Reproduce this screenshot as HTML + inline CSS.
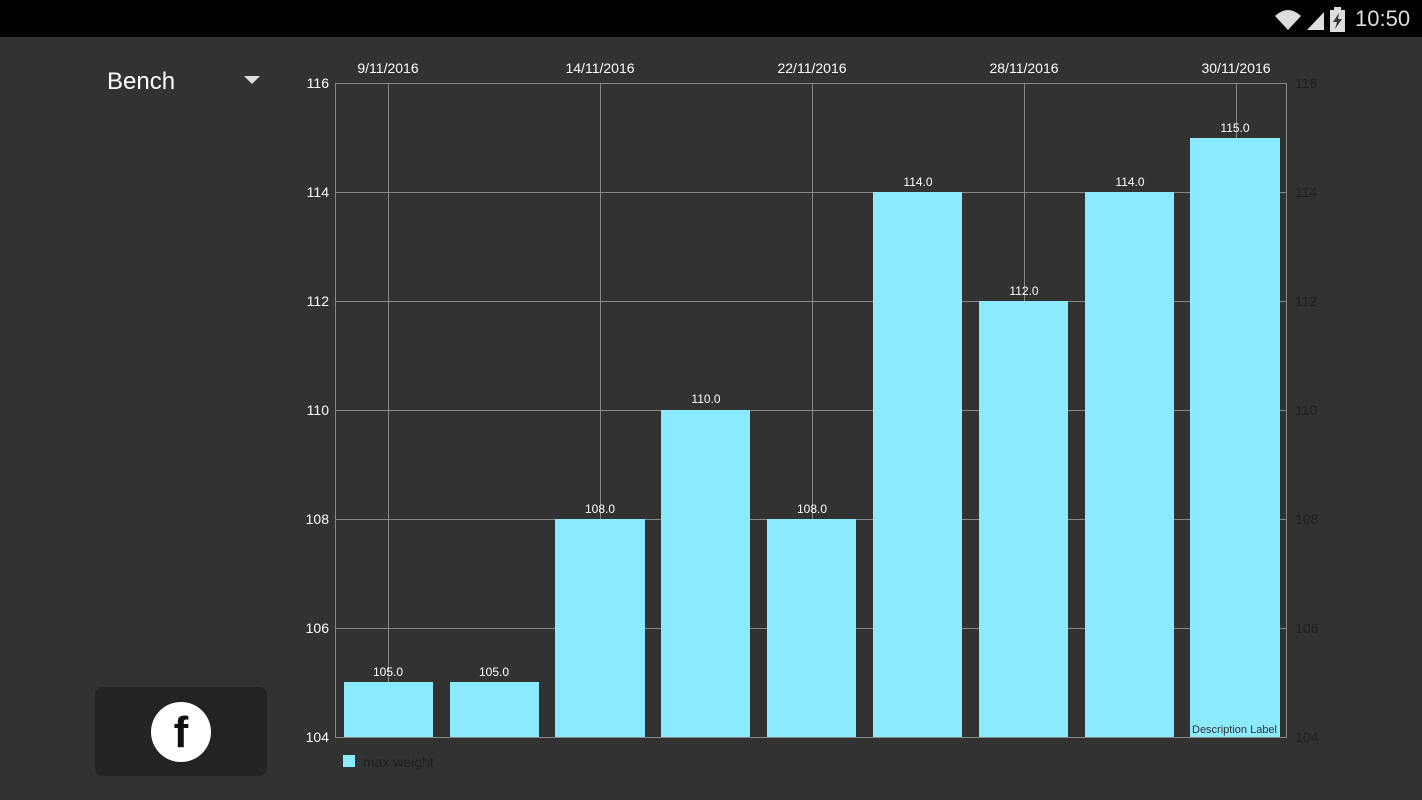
<!DOCTYPE html><html><head><style>
body{margin:0;width:1422px;height:800px;background:#323232;position:relative;overflow:hidden;font-family:"Liberation Sans",sans-serif}
.t{position:absolute;white-space:nowrap}
</style></head><body>
<div style="position:absolute;left:0;top:0;width:1422px;height:37px;background:#000"></div>
<svg style="position:absolute;left:1270px;top:4px" width="80" height="28">
<path d="M5 12 Q18 0 31 12 L18 26 Z" fill="#ddd"/>
<path d="M37 26 L54 8 L54 26 Z" fill="#ddd"/>
<rect x="60" y="6" width="15" height="22" fill="#ddd"/><rect x="64" y="3" width="7" height="3" fill="#ddd"/>
<path d="M69 9 L63 18 L67 18 L65 25 L72 15 L68 15 Z" fill="#333"/>
</svg>
<div class="t" style="left:1355px;top:6px;font-size:22px;color:#ddd">10:50</div>
<div class="t" style="left:107px;top:68px;font-size:24px;color:#fff">Bench</div>
<svg style="position:absolute;left:244px;top:76px" width="16" height="10"><path d="M0 0 L16 0 L8 8Z" fill="#ddd"/></svg>
<div style="position:absolute;left:95px;top:687px;width:172px;height:89px;background:#232323;border-radius:8px"></div>
<div style="position:absolute;left:151px;top:702px;width:60px;height:60px;background:#fff;border-radius:50%;text-align:center;font:bold 44px 'Liberation Sans';line-height:62px;color:#111">f</div>
<svg style="position:absolute;left:0;top:0" width="1422" height="800" font-family="Liberation Sans">
<g stroke="#888" stroke-width="1">
<line x1="335" y1="83.5" x2="1287" y2="83.5"/>
<line x1="335" y1="192.5" x2="1287" y2="192.5"/>
<line x1="335" y1="301.5" x2="1287" y2="301.5"/>
<line x1="335" y1="410.5" x2="1287" y2="410.5"/>
<line x1="335" y1="519.5" x2="1287" y2="519.5"/>
<line x1="335" y1="628.5" x2="1287" y2="628.5"/>
<line x1="388.5" y1="83" x2="388.5" y2="737"/>
<line x1="600.5" y1="83" x2="600.5" y2="737"/>
<line x1="812.5" y1="83" x2="812.5" y2="737"/>
<line x1="1024.5" y1="83" x2="1024.5" y2="737"/>
<line x1="1236.5" y1="83" x2="1236.5" y2="737"/>
<line x1="335.5" y1="83" x2="335.5" y2="737"/>
<line x1="1286.5" y1="83" x2="1286.5" y2="737"/>
<line x1="335" y1="737.5" x2="1287" y2="737.5"/>
</g>
<g fill="#8ceaff">
<rect x="344" y="682" width="89" height="55"/>
<rect x="450" y="682" width="89" height="55"/>
<rect x="555" y="519" width="90" height="218"/>
<rect x="661" y="410" width="89" height="327"/>
<rect x="767" y="519" width="89" height="218"/>
<rect x="873" y="192" width="89" height="545"/>
<rect x="979" y="301" width="89" height="436"/>
<rect x="1085" y="192" width="89" height="545"/>
<rect x="1190" y="138" width="90" height="599"/>
</g>
<g fill="#fff" font-size="12" text-anchor="middle">
<text x="388" y="676">105.0</text><text x="494" y="676">105.0</text><text x="600" y="513">108.0</text>
<text x="706" y="403">110.0</text><text x="812" y="513">108.0</text><text x="918" y="186">114.0</text>
<text x="1024" y="295">112.0</text><text x="1130" y="186">114.0</text><text x="1235" y="132">115.0</text>
</g>
<g fill="#fff" font-size="14" text-anchor="middle">
<text x="388" y="73">9/11/2016</text><text x="600" y="73">14/11/2016</text><text x="812" y="73">22/11/2016</text>
<text x="1024" y="73">28/11/2016</text><text x="1236" y="73">30/11/2016</text>
</g>
<g fill="#fff" font-size="14" text-anchor="end">
<text x="329" y="88">116</text><text x="329" y="197">114</text><text x="329" y="306">112</text><text x="329" y="415">110</text>
<text x="329" y="524">108</text><text x="329" y="633">106</text><text x="329" y="742">104</text>
</g>
<g fill="#1e1e1e" font-size="14">
<text x="1295" y="88">116</text><text x="1295" y="197">114</text><text x="1295" y="306">112</text><text x="1295" y="415">110</text>
<text x="1295" y="524">108</text><text x="1295" y="633">106</text><text x="1295" y="742">104</text>
</g>
<text x="1192" y="733" font-size="11" fill="#333">Description Label</text>
<rect x="343" y="755" width="12" height="12" fill="#8ceaff"/>
<text x="363" y="767" font-size="14" fill="#1e1e1e">max weight</text>
</svg>
</body></html>
